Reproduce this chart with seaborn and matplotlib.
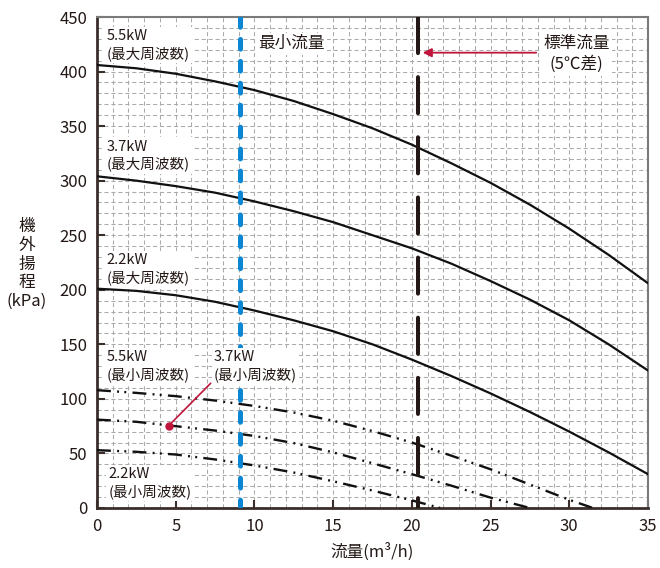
import numpy as np
import pandas as pd
import matplotlib
matplotlib.use("Agg")
import matplotlib.pyplot as plt
from matplotlib.ticker import MultipleLocator
import seaborn as sns

# ---- data ----
q_max = [0, 2.5, 5, 7.5, 10, 12.5, 15, 17.5, 20, 22.5, 25, 27.5, 30, 32.5, 35]
h_55_max = [406, 403, 398, 391, 383, 373, 361, 348, 333, 316, 298, 278, 256, 232, 206]
h_37_max = [304, 300, 295, 289, 281, 272, 262, 250, 238, 224, 208, 191, 172, 150, 126]
h_22_max = [201, 199, 195, 189, 181, 172, 162, 150, 136, 121, 105, 88, 70, 51, 31]

q_55_min = [0, 2.5, 5, 7.5, 10, 12.5, 15, 17.5, 20, 22.5, 25, 27.5, 30, 31.5]
h_55_min = [108, 105.5, 102.5, 98.5, 93.5, 87.5, 80, 70.5, 60, 48, 35.5, 21.5, 7.5, 0]
q_37_min = [0, 2.5, 5, 7.5, 10, 12.5, 15, 17.5, 20, 22.5, 25, 27.5]
h_37_min = [81, 79, 75, 71, 66, 59.5, 51, 41, 31, 20.5, 9.5, 0]
q_22_min = [0, 2.5, 5, 7.5, 10, 12.5, 15, 17.5, 20, 21.8]
h_22_min = [53, 51.5, 49, 44.5, 39, 32.5, 24.5, 16, 7, 0]

min_flow = 9.1
std_flow = 20.4

x_ticks = [0, 5, 10, 15, 20, 25, 30, 35]
y_ticks = [0, 50, 100, 150, 200, 250, 300, 350, 400, 450]

TXT = "#231815"

sns.set_theme(style="white")
plt.rcParams["font.family"] = ["Noto Sans CJK JP", "DejaVu Sans"]
plt.rcParams["lines.scale_dashes"] = False

fig = plt.figure(figsize=(6.6, 5.68), dpi=100)
ax = fig.add_axes([97 / 660, 60 / 568, 551 / 660, 491 / 568])

solid_kw = dict(color="#111111", linewidth=1.6, zorder=3)
dd = (0, (10, 4.5, 1.4, 3.8, 1.4, 4.5))
min_kw = dict(color="#111111", linewidth=1.7, zorder=3)

for h in (h_55_max, h_37_max, h_22_max):
    sns.lineplot(x=q_max, y=h, ax=ax, errorbar=None, **solid_kw)
for q, h in ((q_55_min, h_55_min), (q_37_min, h_37_min), (q_22_min, h_22_min)):
    sns.lineplot(x=q, y=h, ax=ax, errorbar=None, **min_kw)
    ax.lines[-1].set_linestyle(dd)

# vertical reference lines (drawn from the top down)
ax.plot([min_flow, min_flow], [450, 0], color="#0a86d2", linewidth=3.6,
        linestyle=(0, (7.0, 8.8)), dash_capstyle="round", zorder=4)
ax.plot([std_flow, std_flow], [450, 0], color="#231815", linewidth=2.9,
        linestyle=(0, (26.0, 17.3)), dash_capstyle="round", zorder=4)

ax.set_xlim(0, 35)
ax.set_ylim(0, 450)
ax.set_xticks(x_ticks)
ax.set_yticks(y_ticks)
ax.xaxis.set_minor_locator(MultipleLocator(1))
ax.yaxis.set_minor_locator(MultipleLocator(10))
ax.grid(which="both", color="#ababab", linestyle=(0, (3, 2)), linewidth=0.75, zorder=0)
ax.set_axisbelow(True)

ax.tick_params(which="major", direction="in", length=6, width=1.5, color="#3a2e2a",
               labelcolor=TXT, labelsize=12, pad=7, top=False, right=False,
               left=True, bottom=True)
ax.tick_params(which="minor", length=0)

for s in ("left", "bottom"):
    ax.spines[s].set_color("#3a2e2a")
    ax.spines[s].set_linewidth(2.0)
for s in ("top", "right"):
    ax.spines[s].set_color("#7a7a7a")
    ax.spines[s].set_linewidth(1.5)

ax.set_xlabel("")
ax.set_ylabel("")
fig.text(372 / 660, 1 - 552 / 568, "流量(m³/h)", ha="center", va="center",
         fontsize=12, color=TXT)
fig.text(27 / 660, 1 - 264 / 568, "機\n外\n揚\n程\n(kPa)", ha="center", va="center",
         fontsize=12, color=TXT, linespacing=1.12)

box = dict(boxstyle="square,pad=0.15", facecolor="white", edgecolor="none")
lab_kw = dict(fontsize=10.5, color=TXT, ha="left", va="center", linespacing=1.25,
              bbox=box, zorder=2)
ax.text(0.6, 424, "5.5kW\n(最大周波数)", **lab_kw)
ax.text(0.6, 323, "3.7kW\n(最大周波数)", **lab_kw)
ax.text(0.6, 219, "2.2kW\n(最大周波数)", **lab_kw)
ax.text(0.6, 130, "5.5kW\n(最小周波数)", **lab_kw)
lab_top = dict(lab_kw, zorder=6)
ax.text(7.43, 130, "3.7kW\n(最小周波数)", **lab_top)
ax.text(0.72, 23, "2.2kW\n(最小周波数)", **lab_kw)

ax.text(10.23, 425.7, "最小流量", fontsize=12, color=TXT, ha="left", va="center",
        bbox=box, zorder=2)
ax.text(30.46, 416.3, "標準流量\n(5℃差)", fontsize=12, color=TXT, ha="center",
        va="center", linespacing=1.3, bbox=box, zorder=2)

RED = "#c0143c"
ax.annotate("", xy=(20.69, 417.3), xytext=(27.9, 417.3),
            arrowprops=dict(arrowstyle="-|>", color=RED, lw=1.3, mutation_scale=13,
                            shrinkA=0, shrinkB=0), zorder=5)
ax.plot([7.22, 4.55], [114.3, 75.4], color=RED, linewidth=1.2, zorder=5)
ax.plot([4.55], [75.4], marker="o", markersize=5, color=RED, zorder=5)

fig.savefig("out.png", dpi=100)
